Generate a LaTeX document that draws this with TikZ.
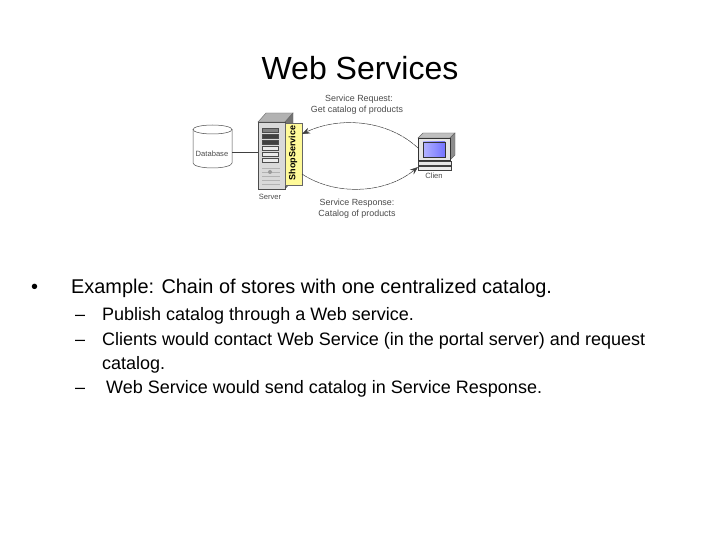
\documentclass[tikz,border=0pt]{standalone}
\usepackage{fontspec}
\usetikzlibrary{shapes.geometric,arrows.meta}
\setmainfont{Liberation Sans}
\begin{document}
\begin{tikzpicture}[x=1pt,y=-1pt,
  title/.style={font=\fontsize{32}{36}\selectfont,anchor=base,inner sep=0},
  lvlone/.style={font=\fontsize{19.9}{24}\selectfont,anchor=base west,inner sep=0},
  lvltwo/.style={font=\fontsize{18}{22}\selectfont,anchor=base west,inner sep=0},
  small/.style={font=\fontsize{8.9}{10}\selectfont,text=black!70,inner sep=0},
  tiny/.style={font=\fontsize{7.6}{9}\selectfont,text=black!70,inner sep=0},
  conn/.style={draw=black!75,line width=0.5pt},
  slot/.style={draw=black!70,minimum width=16pt,minimum height=4pt,inner sep=0,line width=0.5pt},
  flow/.style={conn,dash pattern=on 6pt off 0.6pt,-{Stealth[length=8pt,width=6pt]}}]
\useasboundingbox (0,0) rectangle (720,540);
\fill[white] (0,0) rectangle (720,540);
% text
\node[title] (t) at (360,80) {Web Services};
\node[lvlone] (b0) at (31,293) {•};
\node[lvlone] (b1) at (71,293) {Example: Chain of stores with one centralized catalog.};
\node[lvltwo] (d1) at (75,320) {–};
\node[lvltwo] (s1) at (102,320) {Publish catalog through a Web service.};
\node[lvltwo] (d2) at (75,345) {–};
\node[lvltwo] (s2) at (102,345) {Clients would contact Web Service (in the portal server) and request};
\node[lvltwo] (s2b) at (102,369) {catalog.};
\node[lvltwo] (d3) at (75,393) {–};
\node[lvltwo] (s3) at (106,393) {Web Service would send catalog in Service Response.};
% database
\path[draw=black!70,fill=white,line width=0.5pt] (193,129.5) -- (193,163) arc[start angle=180,end angle=0,x radius=19.5,y radius=5] -- (232,129.5);
\node[draw=black!70,fill=white,ellipse,minimum width=39pt,minimum height=9pt,inner sep=0,line width=0.5pt] (dbtop) at (212.5,129.5) {};
\node[tiny] (db) at (212,154) {Database};
% server
\path[fill=black!30,draw=black!60,line width=0.4pt] (258,122) -- (266,113) -- (293,113) -- (285,122) -- cycle;
\path[fill=black!55,draw=black!60,line width=0.4pt] (285,122) -- (293,113) -- (293,180) -- (285,189) -- cycle;
\path[fill=black!15,draw=black!70,line width=0.8pt] (258,122) rectangle (285,189);
\node[slot,fill=black!50] (r1) at (270.5,130) {};
\node[slot,fill=black!75] (r2) at (270.5,136) {};
\node[slot,fill=black!75] (r3) at (270.5,142) {};
\node[slot,fill=black!8] (r4) at (270.5,148) {};
\node[slot,fill=black!8] (r5) at (270.5,154) {};
\node[slot,fill=black!8] (r6) at (270.5,160) {};
\foreach \yy in {168,172,176,180,184} \draw[black!30,line width=0.7pt] (262,\yy) -- (280,\yy);
\node[fill=black!40,circle,minimum size=4pt,inner sep=0] (led) at (270,172) {};
% shop service
\node[draw=black!60,fill=yellow!40,minimum width=17pt,minimum height=62pt,inner sep=0,line width=0.4pt] (shop) at (293.5,154) {};
\node[rotate=90,font=\fontsize{9}{11}\selectfont\bfseries,inner sep=0] (shopt) at (293,153) {ShopService};
\node[tiny] (srv) at (270,197) {Server};
% client
\path[fill=black!25,draw=black!60,line width=0.4pt] (418,138) -- (423,133) -- (455,133) -- (450,138) -- cycle;
\path[fill=black!45,draw=black!60,line width=0.4pt] (450,138) -- (455,133) -- (455,155) -- (450,160) -- cycle;
\path[fill=black!10,draw=black!80,line width=0.8pt] (418,138) rectangle (450,160);
\path[left color=blue!30!white,right color=blue!55!white,draw=black!80,line width=0.5pt] (423,142) rectangle (445,157);
\path[fill=black!10,draw=black!75,line width=0.5pt] (418,161) rectangle (451,165);
\path[fill=black!8,draw=black!75,line width=0.5pt] (418,166) rectangle (451,170);
\node[tiny] (cl) at (434,175.5) {Clien};
% connectors
\coordinate (dbr) at (232,152);
\coordinate (srvl) at (258,152);
\draw[conn] (dbr) -- (srvl);
\coordinate (cla) at (418,148);
\coordinate (clb) at (418,167);
\coordinate (sa) at (302,134);
\coordinate (sb) at (302,174);
\draw[flow] (cla) .. controls (388,120) and (340,116) .. (sa);
\draw[flow] (sb) .. controls (335,196) and (385,194) .. (clb);
% labels
\node[small] (rq1) at (359,99.5) {Service Request:};
\node[small] (rq2) at (357,110) {Get catalog of products};
\node[small] (rs1) at (357,203.5) {Service Response:};
\node[small] (rs2) at (357,214) {Catalog of products};
\end{tikzpicture}
\end{document}
